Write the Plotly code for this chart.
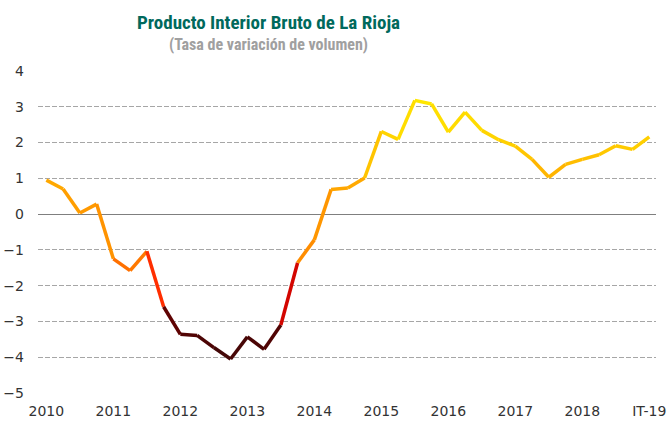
import plotly.graph_objects as go
from plotly.colors import sample_colorscale

# Quarterly PIB La Rioja, 2010 T1 .. 2019 T1
quarters = [f"{y}-T{q}" for y in range(2010, 2019) for q in range(1, 5)] + ["2019-T1"]
pib = [
    0.95, 0.70, 0.03, 0.28,
    -1.25, -1.58, -1.04, -2.59,
    -3.36, -3.39, -3.73, -4.05,
    -3.43, -3.78, -3.10, -1.36,
    -0.72, 0.69, 0.73, 1.01,
    2.31, 2.09, 3.18, 3.08,
    2.29, 2.85, 2.34, 2.08,
    1.90, 1.53, 1.03, 1.39,
    1.53, 1.66, 1.91, 1.81,
    2.16,
]
tick_labels = ["2010", "2011", "2012", "2013", "2014", "2015", "2016", "2017", "2018", "IT-19"]

_TICK_FONT = dict(family="DejaVu Sans, Verdana, sans-serif", size=14, color="#333333")
_TITLE_FONT = "Liberation Sans Narrow, Roboto Condensed, Arial Narrow, sans-serif"

# colour by value: dark brown at the bottom, red, orange, yellow at the top
_VMIN, _VMAX = -4.1, 3.2
_SCALE = [
    (-4.1, "#3d0808"),
    (-3.0, "#5c0202"),
    (-2.5, "#a00000"),
    (-2.0, "#ff0a00"),
    (-1.5, "#ff6a00"),
    (-1.0, "#ff9000"),
    (0.0, "#ff9600"),
    (1.0, "#ffac00"),
    (2.0, "#ffd000"),
    (3.2, "#ffe800"),
]
colorscale = [[(v - _VMIN) / (_VMAX - _VMIN), c] for v, c in _SCALE]

x = list(range(len(pib)))

fig = go.Figure()
for i in range(len(pib) - 1):
    mid = (pib[i] + pib[i + 1]) / 2
    t = min(max((mid - _VMIN) / (_VMAX - _VMIN), 0), 1)
    color = sample_colorscale(colorscale, [t])[0]
    fig.add_trace(
        go.Scatter(
            x=x[i:i + 2],
            y=pib[i:i + 2],
            mode="lines",
            line=dict(color=color, width=3.5),
            hovertemplate=f"{quarters[i + 1]}: %{{y:.2f}}<extra></extra>",
            showlegend=False,
        )
    )

W, H = 668, 423
L, R, T, B = 38, 12, 71, 30
plot_w, plot_h = W - L - R, H - T - B


def _paper(px, py):
    # pixel position on the page -> paper coords
    return (px - L) / plot_w, (H - B - py) / plot_h


tx, ty = _paper(268, 22)
sx, sy = _paper(268, 45)

fig.update_layout(
    width=W,
    height=H,
    paper_bgcolor="white",
    plot_bgcolor="white",
    margin=dict(l=L, r=R, t=T, b=B),
    showlegend=False,
    annotations=[
        dict(
            text="<b>Producto Interior Bruto de La Rioja</b>",
            x=tx, y=ty, xref="paper", yref="paper",
            xanchor="center", yanchor="middle", showarrow=False,
            font=dict(family=_TITLE_FONT, size=19, color="#00695c"),
        ),
        dict(
            text="<b>(Tasa de variación de volumen)</b>",
            x=sx, y=sy, xref="paper", yref="paper",
            xanchor="center", yanchor="middle", showarrow=False,
            font=dict(family=_TITLE_FONT, size=16, color="#a0a0a0"),
        ),
    ],
)

fig.update_xaxes(
    range=[-0.5, 36.4],
    tickvals=x[::4],
    ticktext=tick_labels,
    tickfont=_TICK_FONT,
    showgrid=False,
    zeroline=False,
    showline=False,
    ticks="",
    ticklabelstandoff=8,
    automargin=False,
)
fig.update_yaxes(
    range=[-5, 4],
    dtick=1,
    tickfont=_TICK_FONT,
    showgrid=True,
    gridcolor="#a6a6a6",
    griddash="5px,2px",
    gridwidth=1,
    zeroline=True,
    zerolinecolor="#7f7f7f",
    zerolinewidth=1.2,
    showline=False,
    ticks="",
    ticklabelstandoff=13,
    automargin=False,
)

fig.write_html(
    "out.html",
    config={"displayModeBar": False},
    post_script="document.body.style.margin='0';",
)
